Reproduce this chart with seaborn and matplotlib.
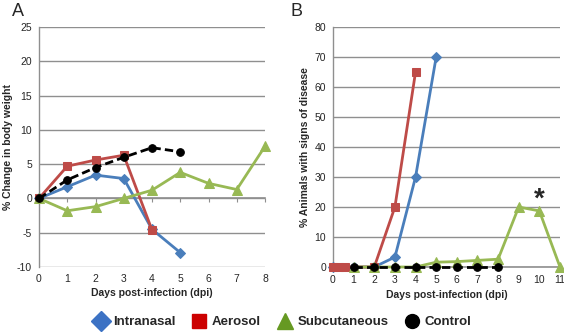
import matplotlib
matplotlib.use("Agg")
import matplotlib.pyplot as plt
from matplotlib.lines import Line2D
import seaborn as sns
import pandas as pd

# ---- data ----
# panel A: % change in body weight
a_days_intranasal = [0, 1, 2, 3, 4, 5]
a_intranasal = [0, 1.7, 3.4, 2.9, -4.5, -7.9]
a_days_aerosol = [0, 1, 2, 3, 4]
a_aerosol = [0, 4.7, 5.6, 6.3, -4.6]
a_days_subcut = [0, 1, 2, 3, 4, 5, 6, 7, 8]
a_subcut = [0, -1.8, -1.2, 0, 1.2, 3.8, 2.2, 1.3, 7.6]
a_days_control = [0, 1, 2, 3, 4, 5]
a_control = [0, 2.7, 4.5, 6.0, 7.4, 6.8]

# panel B: % animals with signs of disease
b_days_intranasal = [0, 1, 2, 3, 4, 5]
b_intranasal = [0, 0, 0, 3.3, 30, 70]
b_days_aerosol = [0, 0.3, 0.6, 2, 3, 4]
b_aerosol = [0, 0, 0, 0, 20, 65]
b_days_subcut = [1, 2, 3, 4, 5, 6, 7, 8, 9, 10, 11]
b_subcut = [0, 0, 0, 0, 1.6, 1.8, 2.2, 2.6, 20, 18.7, 0]
b_days_control = [1, 2, 3, 4, 5, 6, 7, 8]
b_control = [0, 0, 0, 0, 0, 0, 0, 0]

series_names = ["Intranasal", "Aerosol", "Subcutaneous", "Control"]
line_colors = ["#4A7EBB", "#BE4B48", "#98B954", "black"]
legend_colors = ["#3C72C4", "#CC0000", "#669922", "black"]
markers = ["D", "s", "^", "o"]

sns.set_style("white")
plt.rcParams["font.family"] = ["Liberation Sans", "DejaVu Sans"]
plt.rcParams["axes.unicode_minus"] = False

GRID = "#8f8f8f"


def draw_series(ax, xs, ys, color, marker, dashed=False):
    df = pd.DataFrame({"day": xs, "value": ys})
    sns.lineplot(data=df, x="day", y="value", ax=ax, color=color,
                 marker=marker, markersize=5.5 if marker != "^" else 7,
                 markeredgecolor=color, linewidth=2.0,
                 linestyle=(0, (3, 1.5)) if dashed else "-",
                 clip_on=False, zorder=3)


def style_axes(ax, ymin, ymax, ystep, xmax, ylabel):
    ax.set_ylim(ymin, ymax)
    ax.set_xlim(0, xmax)
    ax.set_yticks(range(ymin, ymax + 1, ystep))
    ax.set_xticks(range(0, xmax + 1))
    ax.yaxis.grid(True, color=GRID, linewidth=1.0)
    ax.set_axisbelow(True)
    for s in ["top", "right"]:
        ax.spines[s].set_visible(False)
    ax.spines["left"].set_color(GRID)
    ax.spines["left"].set_linewidth(1.0)
    ax.tick_params(axis="y", length=3, color=GRID, labelsize=7.5, pad=2)
    ax.set_ylabel(ylabel, fontsize=7.5, fontweight="bold", labelpad=3)
    ax.set_xlabel("Days post-infection (dpi)", fontsize=7.5,
                  fontweight="bold", labelpad=3)


fig = plt.figure(figsize=(5.64, 3.33), dpi=100)
axA = fig.add_axes([39 / 564, 66 / 333, 226 / 564, 240 / 333])
axB = fig.add_axes([333 / 564, 66 / 333, 227 / 564, 240 / 333])

# panel A
draw_series(axA, a_days_intranasal, a_intranasal, line_colors[0], markers[0])
draw_series(axA, a_days_aerosol, a_aerosol, line_colors[1], markers[1])
draw_series(axA, a_days_subcut, a_subcut, line_colors[2], markers[2])
draw_series(axA, a_days_control, a_control, line_colors[3], markers[3], dashed=True)
style_axes(axA, -10, 25, 5, 8, "% Change in body weight")
axA.spines["bottom"].set_visible(False)
axA.tick_params(axis="x", length=0, labelsize=7.5, pad=5)
# horizontal axis crosses at 0 with its tick marks
sec = axA.secondary_xaxis(10 / 35)
sec.set_xticks(range(0, 9))
sec.tick_params(axis="x", length=3, color=GRID, labelbottom=False)
sec.spines["bottom"].set_color(GRID)
sec.spines["bottom"].set_linewidth(1.2)

# panel B
draw_series(axB, b_days_intranasal, b_intranasal, line_colors[0], markers[0])
draw_series(axB, b_days_aerosol, b_aerosol, line_colors[1], markers[1])
draw_series(axB, b_days_subcut, b_subcut, line_colors[2], markers[2])
draw_series(axB, b_days_control, b_control, line_colors[3], markers[3], dashed=True)
style_axes(axB, 0, 80, 10, 11, "% Animals with signs of disease")
axB.spines["bottom"].set_color(GRID)
axB.spines["bottom"].set_linewidth(1.2)
axB.tick_params(axis="x", length=3, color=GRID, labelsize=7.5, pad=3)
axB.text(10, 22.5, "*", ha="center", va="center", fontsize=20, fontweight="bold")

fig.text(12 / 564, 1 - 12 / 333, "A", fontsize=13, ha="left", va="center")
fig.text(290 / 564, 1 - 12 / 333, "B", fontsize=13, ha="left", va="center")

handles = [Line2D([], [], linestyle="none", marker=m, color=c, markersize=10 if m != "^" else 12)
           for m, c in zip(markers, legend_colors)]
fig.legend(handles, series_names, loc="center", bbox_to_anchor=(0.5, 1 - 322 / 333),
           ncol=4, frameon=False, prop={"weight": "bold", "size": 9.5},
           handletextpad=0.35, columnspacing=1.2, handlelength=1.2)

fig.savefig("out.png", dpi=100)
